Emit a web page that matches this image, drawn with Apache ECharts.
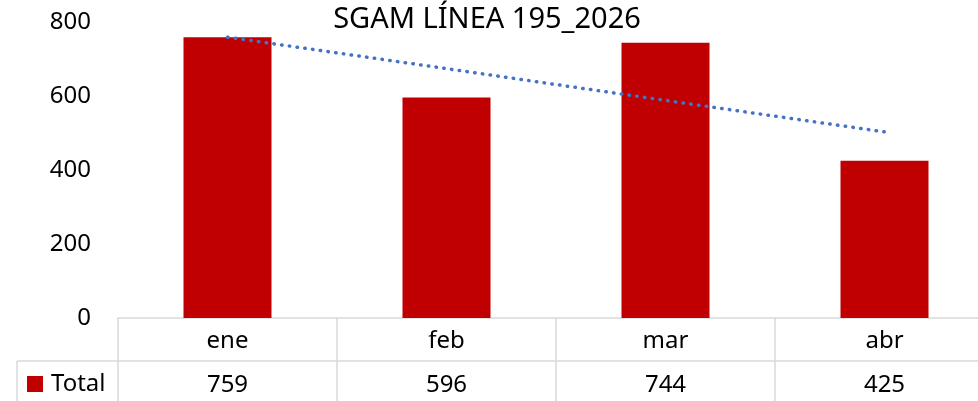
<!DOCTYPE html>
<html>
<head>
<meta charset="utf-8">
<script src="https://cdn.jsdelivr.net/npm/echarts@6/dist/echarts.min.js"></script>
<style>
  html, body { margin: 0; padding: 0; background: #fff; }
  #main { width: 978px; height: 401px; }
</style>
</head>
<body>
<div id="main"></div>
<script>
// datos
var categories = ['ene', 'feb', 'mar', 'abr'];
var totals = [759, 596, 744, 425];
var trend = [759, 674, 588, 503]; // línea de tendencia (lineal)
var yTicks = [0, 200, 400, 600, 800];

var FONT = 'Noto Sans';
var GRID_COLOR = '#D9D9D9';

var myChart = echarts.init(document.getElementById('main'));

var option = {
  animation: false,
  title: {
    text: 'SGAM LÍNEA 195_2026',
    left: 487,
    textAlign: 'center',
    top: 3,
    padding: 0,
    textStyle: { fontFamily: FONT, fontSize: 29, fontWeight: 'normal', color: '#000', lineHeight: 34 }
  },
  legend: {
    data: [{ name: 'Total', icon: 'rect' }],
    left: 27,
    top: 372,
    padding: 0,
    itemWidth: 16,
    itemHeight: 16,
    itemGap: 0,
    textStyle: { fontFamily: FONT, fontSize: 24, color: '#000', padding: [0, 0, 0, 3] }
  },
  grid: { left: 118, width: 876, top: 22, height: 296, outerBoundsMode: 'none', containLabel: false },
  xAxis: [
    {
      type: 'category',
      data: categories,
      position: 'bottom',
      axisLine: { lineStyle: { color: GRID_COLOR, width: 1.5 } },
      axisTick: { show: true, length: 86, lineStyle: { color: GRID_COLOR, width: 1.5 } },
      axisLabel: { fontFamily: FONT, fontSize: 24, color: '#000', margin: 11 }
    },
    {
      type: 'category',
      data: totals.map(String),
      position: 'bottom',
      offset: 43,
      axisLine: { lineStyle: { color: GRID_COLOR, width: 1.5 } },
      axisTick: { show: false },
      axisLabel: { fontFamily: FONT, fontSize: 24, color: '#000', margin: 12 }
    }
  ],
  yAxis: {
    type: 'value',
    min: 0,
    max: yTicks[yTicks.length - 1],
    interval: 200,
    axisLine: { show: false },
    axisTick: { show: false },
    splitLine: { show: false },
    axisLabel: { fontFamily: FONT, fontSize: 24, color: '#000', margin: 27 }
  },
  graphic: [
    { type: 'line', shape: { x1: 17, y1: 361, x2: 118, y2: 361 }, style: { stroke: GRID_COLOR, lineWidth: 1.5 } },
    { type: 'line', shape: { x1: 17, y1: 361, x2: 17, y2: 401 }, style: { stroke: GRID_COLOR, lineWidth: 1.5 } }
  ],
  series: [
    {
      name: 'Total',
      type: 'bar',
      data: totals,
      barWidth: 88,
      itemStyle: { color: '#C00000' }
    },
    {
      name: 'tendencia',
      type: 'line',
      data: trend,
      symbol: 'none',
      silent: true,
      z: 5,
      lineStyle: { color: '#4472C4', width: 3.5, type: [0.5, 7.3], cap: 'round' }
    }
  ]
};

myChart.setOption(option);
</script>
</body>
</html>
